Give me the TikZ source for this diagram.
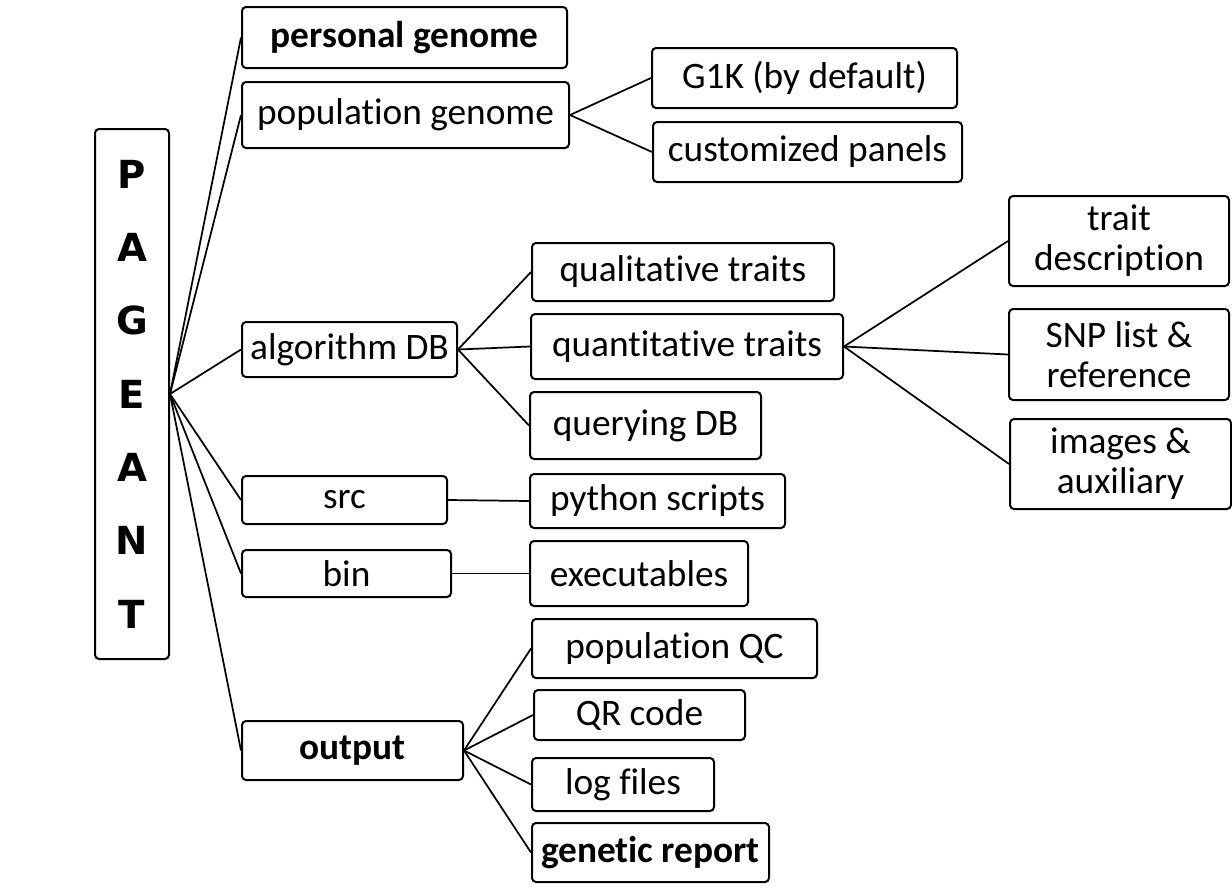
\documentclass[tikz,border=0pt]{standalone}
\usepackage{fontspec}
\setmainfont[Ligatures=NoCommon]{Carlito}
\newfontfamily\rootfont{DejaVu Sans}
\begin{document}
\begin{tikzpicture}[x=0.75pt,y=-0.75pt,
        box/.style={draw, rounded corners=3pt, line width=1.5pt, inner sep=0pt, align=center,
            font=\fontsize{28}{30}\selectfont},
        link/.style={line width=1.3pt}]
        \useasboundingbox (0,0) rectangle (1232,896);

        % The root box with the stacked letters
        \node[box, minimum width=55.5pt, minimum height=397.5pt,
            font=\rootfont\bfseries\fontsize{29}{55}\selectfont] (root) at (132,394) {P\\A\\G\\E\\A\\N\\T};

        % Define the boxes by centre, width and height (in pixels)
        \foreach \name/\cx/\cy/\w/\h/\txt in {
            personal/404.5/37.5/325/61/{\bfseries personal genome},
            popgen/405.5/115/327/66/{population genome},
            gonek/804.5/78/305/60/{G1K (by default)},
            panels/807.5/152/309/60/{customized panels},
            algo/349.5/349.5/215/55/{algorithm DB},
            qual/683/272/302/58/{qualitative traits},
            quant/687/346.5/312/65/{quantitative traits},
            query/645.5/425.5/231/67/{querying DB},
            desc/1119/241/220/90/{trait\\description},
            snp/1119/354.5/220/91/{SNP list \&\\reference},
            images/1120.5/464/221/90/{images \&\\auxiliary},
            src/344.5/500/205/48/{src},
            python/657.5/501/255/54/{python scripts},
            bin/346.5/573.5/209/47/{bin},
            exe/639/573.5/218/65/{executables},
            output/352.5/750.5/221/59/{\bfseries output},
            popqc/674.5/648.5/285/59/{population QC},
            qr/639.5/715/211/50/{QR code},
            log/623/784.5/182/53/{log files},
            report/650.5/852.5/237/59/{\bfseries genetic report}} {
            \node[box, minimum width=\w*0.75pt, minimum height=\h*0.75pt] (\name) at (\cx,\cy) {\txt};
        }

        % Connect each parent to its children
        \foreach \a/\b in {root/personal, root/popgen, root/algo, root/src, root/bin, root/output,
            popgen/gonek, popgen/panels, algo/qual, algo/quant, algo/query,
            quant/desc, quant/snp, quant/images, src/python, bin/exe,
            output/popqc, output/qr, output/log, output/report} {
            \draw[link] (\a.east) -- (\b.west);
        }
    \end{tikzpicture}
\end{document}
